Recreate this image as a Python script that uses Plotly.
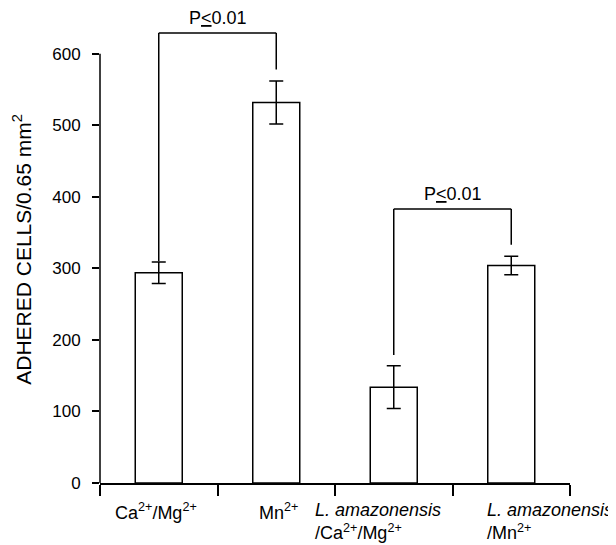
import plotly.graph_objects as go

# ---- data ----
categories = ["Ca2+/Mg2+", "Mn2+", "La/Ca2+/Mg2+", "La/Mn2+"]
tick_labels = [
    "Ca<sup>2+</sup>/Mg<sup>2+</sup>",
    "Mn<sup>2+</sup>",
    "<i>L. amazonensis</i><br>/Ca<sup>2+</sup>/Mg<sup>2+</sup>",
    "<i>L. amazonensis</i><br>/Mn<sup>2+</sup>",
]
values = [294, 532, 134, 304]
errors = [15, 30, 30, 13]
y_tick_values = [0, 100, 200, 300, 400, 500, 600]

# significance brackets: (left index, right index, top, left leg end, right leg end)
bracket_left = [0, 2]
bracket_right = [1, 3]
bracket_top = [629, 383]
bracket_left_end = [310, 179]
bracket_right_end = [578, 333]
bracket_text = ["P<u>&lt;</u>0.01", "P<u>&lt;</u>0.01"]

FONT = "Liberation Sans, Arial, sans-serif"

fig = go.Figure()
fig.add_trace(go.Bar(
    x=list(range(len(categories))),
    y=values,
    width=0.4,
    marker=dict(color="white", line=dict(color="black", width=1.5)),
    error_y=dict(type="data", array=errors, color="black", thickness=1.5, width=7),
    hoverinfo="skip",
))

shapes = []
annotations = []
# y axis line from 0 to 600
shapes.append(dict(type="line", xref="paper", yref="y", x0=0, x1=0,
                   y0=y_tick_values[0], y1=y_tick_values[-1],
                   line=dict(color="black", width=1.5)))
for l, r, top, le, re_, txt in zip(bracket_left, bracket_right, bracket_top,
                                    bracket_left_end, bracket_right_end, bracket_text):
    shapes.append(dict(type="line", xref="x", yref="y", x0=l, x1=l, y0=le, y1=top,
                       line=dict(color="black", width=1.5)))
    shapes.append(dict(type="line", xref="x", yref="y", x0=l, x1=r, y0=top, y1=top,
                       line=dict(color="black", width=1.5)))
    shapes.append(dict(type="line", xref="x", yref="y", x0=r, x1=r, y0=re_, y1=top,
                       line=dict(color="black", width=1.5)))
    annotations.append(dict(x=(l + r) / 2, y=top, xref="x", yref="y", text=txt,
                            showarrow=False, yanchor="bottom", yshift=3,
                            font=dict(family=FONT, size=18, color="black")))

label_shift = [-46, -19, -81, -26]
for i, (lab, sh) in enumerate(zip(tick_labels, label_shift)):
    annotations.append(dict(x=i, y=0, xref="x", yref="y", text=lab, showarrow=False,
                            xanchor="left", yanchor="top", align="left",
                            xshift=sh, yshift=-15,
                            font=dict(family=FONT, size=18, color="black")))

annotations.append(dict(xref="paper", yref="y", x=0, y=326, xshift=-78,
                        xanchor="center", yanchor="middle",
                        text="ADHERED CELLS/0.65 mm<sup>2</sup>", textangle=-90,
                        showarrow=False,
                        font=dict(family=FONT, size=21, color="black")))

fig.update_layout(
    width=616, height=545,
    margin=dict(l=92, r=54, t=0, b=70),
    plot_bgcolor="white", paper_bgcolor="white",
    showlegend=False,
    shapes=shapes,
    annotations=annotations,
    font=dict(family=FONT, color="black"),
    xaxis=dict(
        type="linear", range=[-0.5, 3.5],
        tickvals=[-0.5, 0.5, 1.5, 2.5, 3.5],
        showticklabels=False,
        showline=True, linecolor="black", linewidth=1.5,
        ticks="outside", ticklen=11, tickwidth=1.5, tickcolor="black",
        showgrid=False, zeroline=False,
    ),
    yaxis=dict(
        range=[0, 664],
        tickvals=y_tick_values,
        showline=False,
        ticks="outside", ticklen=7, tickwidth=1.5, tickcolor="black",
        ticklabelstandoff=8,
        tickfont=dict(family=FONT, size=17, color="black"),
        showgrid=False, zeroline=False,
    ),
)

fig.write_html("out.html")
